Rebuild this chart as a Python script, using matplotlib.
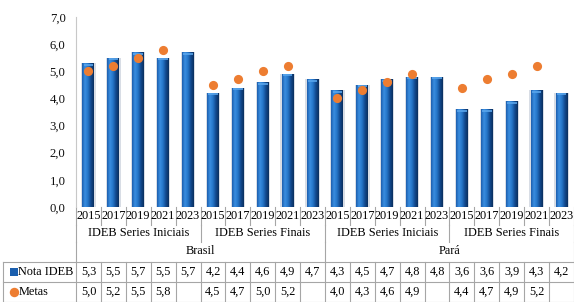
import numpy as np
import matplotlib
matplotlib.use("Agg")
import matplotlib.pyplot as plt
from matplotlib.colors import LinearSegmentedColormap

plt.rcParams['font.family'] = ['Liberation Serif', 'DejaVu Serif']

years = ["2015", "2017", "2019", "2021", "2023"] * 4
groups = ["IDEB Series Iniciais", "IDEB Series Finais", "IDEB Series Iniciais", "IDEB Series Finais"]
countries = ["Brasil", "Pará"]
nota_ideb = [5.3, 5.5, 5.7, 5.5, 5.7, 4.2, 4.4, 4.6, 4.9, 4.7,
             4.3, 4.5, 4.7, 4.8, 4.8, 3.6, 3.6, 3.9, 4.3, 4.2]
metas = [5.0, 5.2, 5.5, 5.8, None, 4.5, 4.7, 5.0, 5.2, None,
         4.0, 4.3, 4.6, 4.9, None, 4.4, 4.7, 4.9, 5.2, None]
yticks = [0, 1, 2, 3, 4, 5, 6, 7]

W, H = 574, 302
fig = plt.figure(figsize=(W / 100, H / 100), dpi=100)

n = len(nota_ideb)
x = np.arange(n)
ax_left, ax_right, ax_top, ax_bot = 76, 574, 17, 207
ax = fig.add_axes([ax_left / W, 1 - ax_bot / H, (ax_right - ax_left) / W, (ax_bot - ax_top) / H])
ax.set_xlim(-0.5, n - 0.5)
ax.set_ylim(0, 7)

# shadow
ax.bar(x, nota_ideb, width=0.58, color="#b9c2d0", alpha=0.55, zorder=1, linewidth=0)
bars = ax.bar(x, nota_ideb, width=0.48, color="#1b5fae", zorder=2, linewidth=0)
cmap = LinearSegmentedColormap.from_list("b", ["#1d5fae", "#3a8ee0", "#2575c8", "#12498e", "#0a2f5e"])
grad = np.linspace(0, 1, 64).reshape(1, -1)
for b in bars:
    bx, by = b.get_x(), b.get_y()
    bw, bh = b.get_width(), b.get_height()
    im = ax.imshow(grad, cmap=cmap, aspect="auto", extent=(bx, bx + bw, by, by + bh), zorder=3)
    im.set_clip_path(b)
    ax.plot([bx + bw * 0.1, bx + bw * 0.9], [bh - 0.05, bh - 0.05], color="#5aa6ec", lw=1.2, zorder=4, solid_capstyle="butt")

m = np.array([np.nan if v is None else v for v in metas], dtype=float)
ax.plot(x, m, "o", color="#ED7D31", markersize=6.6, markeredgewidth=0, zorder=5, linestyle="none")

ax.set_yticks(yticks)
ax.set_yticklabels([f"{v:.1f}".replace(".", ",") for v in yticks], fontsize=9.2)
ax.tick_params(axis="y", length=0, pad=7.5, colors="#111111")
ax.set_xticks([])
for s in ["top", "right", "bottom"]:
    ax.spines[s].set_visible(False)
ax.spines["left"].set_color("#c8c8c8")
ax.set_facecolor("none")

# table axes in pixel-from-top y coordinates, x shared with main axes scale
unit = (ax_right - ax_left) / n
tx0 = -0.5 - ax_left / unit
at = fig.add_axes([0, 0, 1, 1], zorder=-1)
at.set_xlim(tx0, n - 0.5)
at.set_ylim(H, 0)
at.axis("off")

lc = "#a6a6a6"
lw = 0.8
fs = 8.8
tc = "#000000"
# year row
for i, yr in enumerate(years):
    at.text(i, 216, yr, ha="center", va="center", fontsize=fs, color=tc)
for k in range(n + 1):
    at.plot([k - 0.5, k - 0.5], [207, 225], color=lc, lw=lw)
# group row
for g, name in enumerate(groups):
    at.text(g * 5 + 2, 233, name, ha="center", va="center", fontsize=fs, color=tc)
for k in [0, 5, 10, 15, 20]:
    at.plot([k - 0.5, k - 0.5], [225, 242], color=lc, lw=lw)
# country row
for c, name in enumerate(countries):
    at.text(c * 10 + 4.5, 251, name, ha="center", va="center", fontsize=fs, color=tc)
for k in [0, 10, 20]:
    at.plot([k - 0.5, k - 0.5], [242, 262], color=lc, lw=lw)
# data rows
px = lambda p: tx0 + p / unit
for yy in [262, 282, 301.5]:
    at.plot([px(2.5), n - 0.5], [yy, yy], color=lc, lw=lw)
for k in range(n + 1):
    at.plot([k - 0.5, k - 0.5], [262, 302], color=lc, lw=lw)
at.plot([px(2.5), px(2.5)], [262, 302], color=lc, lw=lw)

for i, v in enumerate(nota_ideb):
    at.text(i, 272, f"{v:.1f}".replace(".", ","), ha="center", va="center", fontsize=fs, color=tc)
for i, v in enumerate(metas):
    if v is not None:
        at.text(i, 292, f"{v:.1f}".replace(".", ","), ha="center", va="center", fontsize=fs, color=tc)

at.plot([px(13.5)], [272], "s", color="#1b5fae", markersize=6.4, markeredgewidth=0)
at.text(px(18.3), 272, "Nota IDEB", ha="left", va="center", fontsize=fs, color=tc)
at.plot([px(13.5)], [292], "o", color="#ED7D31", markersize=6.8, markeredgewidth=0)
at.text(px(18.8), 292, "Metas", ha="left", va="center", fontsize=fs, color=tc)

fig.savefig("out.png", dpi=100)
